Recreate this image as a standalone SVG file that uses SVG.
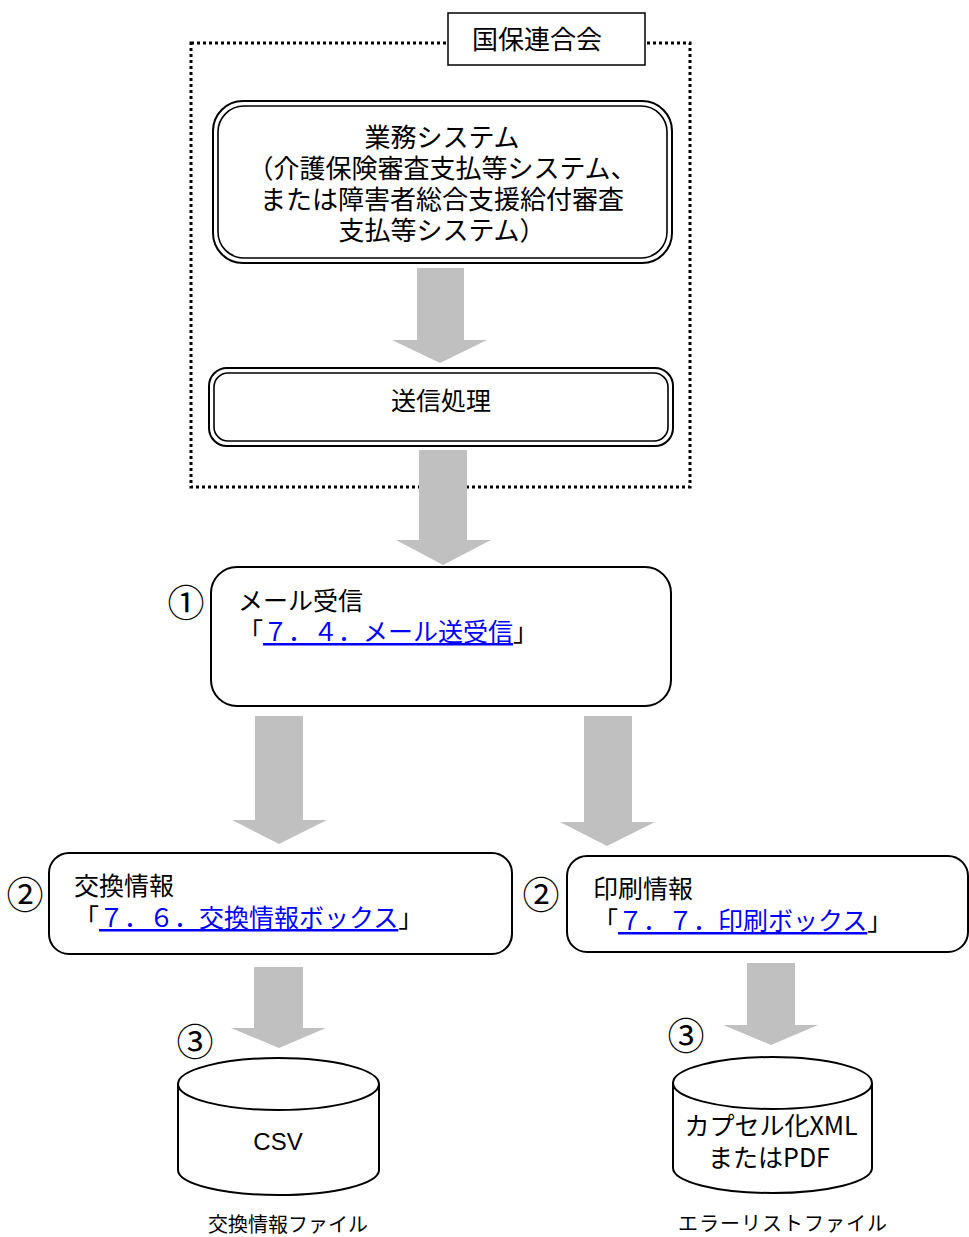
<svg xmlns="http://www.w3.org/2000/svg" width="969" height="1237" viewBox="0 0 969 1237">
<style>
text{font-family:"Noto Sans CJK JP","Liberation Sans",sans-serif;fill:#000}
.t{font-size:25px}
.c{text-anchor:middle}
.num{font-size:37px;text-anchor:middle;dominant-baseline:central}
.lnk{fill:#0000ff;text-decoration:underline}
.box{fill:#fff;stroke:#000;stroke-width:2}
.arr{fill:#c0c0c0}
.lbl{font-size:20px;text-anchor:middle}
</style>
<rect width="969" height="1237" fill="#fff"/>
<g id="kokuho-frame">
<rect x="191" y="43" width="499" height="444" fill="none" stroke="#000" stroke-width="3" stroke-dasharray="3 3"/>
<rect x="448" y="13" width="197" height="52" fill="#fff" stroke="#000" stroke-width="1.5"/>
<text class="t c" x="537" y="49" style="font-size:26px">国保連合会</text>
</g>
<g id="connectors">
<polygon class="arr" points="417,268 464,268 464,340 487,340 440,363 392,340 417,340"/>
<polygon class="arr" points="419,450 467,450 467,540 491,540 443,565 396,540 419,540"/>
<polygon class="arr" points="255,716 303,716 303,820 327,820 279,844 232,820 255,820"/>
<polygon class="arr" points="584,716 632,716 632,822 655,822 607,846 560,822 584,822"/>
<polygon class="arr" points="254,967 303,967 303,1028 326,1028 279,1048 231,1028 254,1028"/>
<polygon class="arr" points="747,963 795,963 795,1025 818,1025 771,1045 723,1025 747,1025"/>
</g>
<g id="gyomu-system">
<rect class="box" x="213" y="101" width="459" height="162" rx="30" stroke-width="2.2"/>
<rect x="218" y="106" width="449" height="152" rx="26" fill="none" stroke="#000" stroke-width="1.6"/>
<text class="t c" x="442" y="147" style="font-size:26px">業務システム</text>
<text class="t c" x="442" y="178" style="font-size:26px">（介護保険審査支払等システム、</text>
<text class="t c" x="442" y="209" style="font-size:26px">または障害者総合支援給付審査</text>
<text class="t c" x="442" y="240" style="font-size:26px">支払等システム）</text>
</g>
<g id="soshin">
<rect class="box" x="209" y="368" width="464" height="78" rx="18" stroke-width="2.2"/>
<rect x="214" y="373" width="454" height="68" rx="14" fill="none" stroke="#000" stroke-width="1.6"/>
<text class="t c" x="441" y="410">送信処理</text>
</g>
<g id="mail-jushin">
<rect class="box" x="211" y="567" width="460" height="139" rx="26"/>
<text class="num" x="186" y="601">①</text>
<text class="t" x="238" y="610">メール受信</text>
<text class="t" x="238" y="641">「<tspan class="lnk">７．４．メール送受信</tspan>」</text>
</g>
<g id="kokan-joho">
<rect class="box" x="49" y="853" width="463" height="101" rx="20"/>
<text class="num" x="25" y="893">②</text>
<text class="t" x="74" y="895">交換情報</text>
<text class="t" x="74" y="927">「<tspan class="lnk">７．６．交換情報ボックス</tspan>」</text>
</g>
<g id="insatsu-joho">
<rect class="box" x="567" y="856" width="401" height="96" rx="20"/>
<text class="num" x="541" y="893">②</text>
<text class="t" x="593" y="898">印刷情報</text>
<text class="t" x="593" y="930">「<tspan class="lnk">７．７．印刷ボックス</tspan>」</text>
</g>
<g id="csv-file">
<path d="M178,1084 L178,1170 A100.5,25 0 0 0 379,1170 L379,1084" fill="#fff" stroke="#000" stroke-width="2"/>
<ellipse cx="278.5" cy="1084" rx="100.5" ry="26" fill="#fff" stroke="#000" stroke-width="2"/>
<text x="278" y="1150" text-anchor="middle" style="font-family:'Liberation Sans Narrow','Liberation Sans',sans-serif;font-size:24px">CSV</text>
<text class="num" x="195" y="1040">③</text>
<text class="lbl" x="288" y="1232">交換情報ファイル</text>
</g>
<g id="error-file">
<path d="M673,1083 L673,1168 A99.5,25 0 0 0 872,1168 L872,1083" fill="#fff" stroke="#000" stroke-width="2"/>
<ellipse cx="772.5" cy="1083" rx="99.5" ry="26" fill="#fff" stroke="#000" stroke-width="2"/>
<text class="t c" x="771" y="1135">カプセル化XML</text>
<text class="t c" x="769" y="1167">またはPDF</text>
<text class="num" x="686" y="1034">③</text>
<text class="lbl" x="783" y="1231" letter-spacing="1">エラーリストファイル</text>
</g>
</svg>
